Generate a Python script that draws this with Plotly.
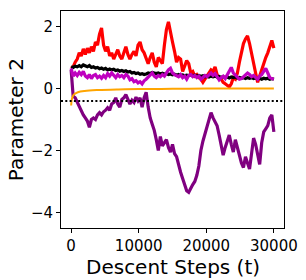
import plotly.graph_objects as go

steps = list(range(0, 30001, 300))

red_vals = [0.65, 0.7, 0.85, 0.95, 1.15, 1.05, 1.28, 1.1, 1.3, 1.15,
            1.35, 1.2, 1.5, 1.4, 1.75, 1.95, 1.4, 1.2, 1.35, 1.05,
            1.15, 0.95, 1.1, 1.25, 1.05, 0.95, 1.15, 1.35, 1.1, 0.95,
            1.1, 1.2, 1.05, 1.4, 1.5, 1.25, 1.15, 0.95, 0.8, 1.0,
            1.15, 0.85, 0.7, 1.0, 0.9, 0.8, 1.4, 1.9, 2.15, 1.75,
            1.5, 1.2, 0.85, 1.0, 0.95, 0.55, 0.7, 0.9, 0.8, 0.5,
            0.55, 0.4, 0.45, 0.35, 0.3, 0.2, 0.3, 0.4, 0.5, 0.6,
            0.55, 0.7, 0.45, 0.35, 0.3, 0.2, 0.15, 0.1, 0.05, 0.15,
            0.35, 0.3, 0.5, 0.85, 1.2, 1.45, 1.6, 1.7, 1.45, 1.1,
            0.75, 0.5, 0.2, 0.4, 0.65, 0.8, 1.0, 1.15, 1.35, 1.55,
            1.3]

black_vals = [0.7, 0.68, 0.72, 0.7, 0.74, 0.7, 0.76, 0.72, 0.7, 0.74,
              0.68, 0.7, 0.66, 0.68, 0.64, 0.66, 0.62, 0.65, 0.6, 0.63,
              0.6, 0.62, 0.58, 0.6, 0.56, 0.58, 0.55, 0.57, 0.53, 0.55,
              0.5, 0.52, 0.48, 0.5, 0.46, 0.48, 0.45, 0.47, 0.5, 0.48,
              0.52, 0.5, 0.48, 0.5, 0.47, 0.49, 0.46, 0.48, 0.45, 0.47,
              0.44, 0.46, 0.43, 0.45, 0.42, 0.44, 0.41, 0.43, 0.42, 0.44,
              0.41, 0.43, 0.4, 0.42, 0.39, 0.41, 0.38, 0.4, 0.37, 0.4,
              0.38, 0.4, 0.37, 0.39, 0.36, 0.38, 0.35, 0.37, 0.34, 0.37,
              0.35, 0.37, 0.34, 0.36, 0.33, 0.35, 0.32, 0.35, 0.33, 0.35,
              0.32, 0.34, 0.31, 0.33, 0.3, 0.33, 0.31, 0.33, 0.3, 0.32,
              0.3]

magenta_vals = [0.65, 0.4, 0.5, 0.42, 0.52, 0.45, 0.55, 0.4, 0.35, 0.45,
                0.32, 0.42, 0.45, 0.35, 0.4, 0.33, 0.42, 0.35, 0.48, 0.4,
                0.5, 0.42, 0.35, 0.45, 0.38, 0.42, 0.35, 0.45, 0.4, 0.28,
                0.32, 0.22, 0.25, 0.18, 0.22, 0.15, 0.25, 0.3, 0.38, 0.45,
                0.5, 0.4, 0.35, 0.42, 0.38, 0.45, 0.4, 0.5, 0.6, 0.65,
                0.5, 0.45, 0.42, 0.38, 0.45, 0.35, 0.4, 0.3, 0.42, 0.45,
                0.38, 0.42, 0.35, 0.4, 0.3, 0.35, 0.42, 0.38, 0.45, 0.5,
                0.42, 0.48, 0.38, 0.28, 0.35, 0.4, 0.32, 0.45, 0.6, 0.68,
                0.5, 0.42, 0.38, 0.3, 0.32, 0.38, 0.45, 0.5, 0.45, 0.38,
                0.42, 0.35, 0.3, 0.4, 0.45, 0.55, 0.65, 0.5, 0.35, 0.32,
                0.3]

purple_vals = [0.6, -0.25, -0.3, -0.45, -0.55, -0.7, -0.85, -0.95, -1.05, -1.25,
               -1.0, -0.95, -1.0, -0.85, -0.78, -0.85, -0.75, -0.7, -0.62, -0.7,
               -0.5, -0.45, -0.3, -0.5, -0.6, -0.35, -0.3, -0.2, -0.35, -0.5,
               -0.38, -0.45, -0.28, -0.4, -0.3, -0.6, -0.3, -0.12, -0.6, -0.95,
               -1.15, -1.35, -1.65, -2.0, -1.55, -1.85, -1.75, -1.65, -1.9, -2.05,
               -1.8, -2.1, -2.2, -2.5, -2.7, -2.9, -3.15, -3.3, -3.35, -3.2,
               -3.1, -3.0, -2.8, -2.5, -2.0, -1.7, -1.45, -1.2, -1.0, -0.78,
               -0.95, -1.1, -1.2, -1.5, -1.8, -2.15, -1.9, -1.7, -1.5, -1.8,
               -2.05, -1.65, -1.9, -2.2, -2.4, -2.55, -2.2, -2.4, -2.6, -2.1,
               -1.6, -1.8, -2.1, -2.45, -1.75, -1.4, -1.3, -1.2, -0.95, -0.85,
               -1.4]

orange_steps = [0, 100, 250, 500, 1000, 2000, 4000, 7000, 10000, 15000, 20000, 25000, 30000]
orange_vals = [-0.55, -0.35, -0.25, -0.18, -0.12, -0.08, -0.05, -0.03, -0.02, -0.01, 0.0, 0.0, 0.0]

ref_level = -0.4

x_ticks = [0, 10000, 20000, 30000]
y_ticks = [-4, -2, 0, 2]

fig = go.Figure()
fig.add_trace(go.Scatter(x=steps, y=red_vals, mode="lines",
                         line=dict(color="#ff0000", width=3.2)))
fig.add_trace(go.Scatter(x=steps, y=purple_vals, mode="lines",
                         line=dict(color="#800080", width=3.2)))
fig.add_trace(go.Scatter(x=steps, y=black_vals, mode="lines",
                         line=dict(color="#000000", width=3.2)))
fig.add_trace(go.Scatter(x=steps, y=magenta_vals, mode="lines",
                         line=dict(color="#bf00bf", width=3.2)))
fig.add_trace(go.Scatter(x=orange_steps, y=orange_vals, mode="lines",
                         line=dict(color="#ffa500", width=2, shape="spline")))

fig.add_shape(type="line", xref="paper", x0=0, x1=1, yref="y", y0=ref_level, y1=ref_level,
              line=dict(color="black", width=2, dash="2px,2.3px"))

axis_common = dict(showline=True, linecolor="black", linewidth=1, mirror=True,
                   ticks="outside", ticklen=4, tickcolor="black", tickwidth=1,
                   showgrid=False, zeroline=False, automargin=False,
                   tickfont=dict(family="DejaVu Sans", size=15, color="black"))

fig.update_xaxes(range=[-1500, 31500], tickvals=x_ticks, tickformat="d", **axis_common)
fig.update_yaxes(range=[-4.5, 2.5], tickvals=y_ticks, **axis_common)

fig.add_annotation(text="Descent Steps (t)", xref="paper", yref="paper",
                   x=0.5, y=-0.117, xanchor="center", yanchor="top", showarrow=False,
                   font=dict(family="DejaVu Sans", size=20, color="black"))
fig.add_annotation(text="Parameter 2", xref="paper", yref="paper",
                   x=-0.203, y=0.5, xanchor="center", yanchor="middle", showarrow=False,
                   textangle=-90,
                   font=dict(family="DejaVu Sans", size=20, color="black"))

fig.update_layout(width=306, height=280, showlegend=False,
                  margin=dict(l=61, r=22, t=11, b=52),
                  plot_bgcolor="white", paper_bgcolor="white")

# remove the browser's default 8px body margin so the figure fills the window exactly
fig.write_html("out.html", config={"displayModeBar": False},
               post_script="document.body.style.margin='0';")
